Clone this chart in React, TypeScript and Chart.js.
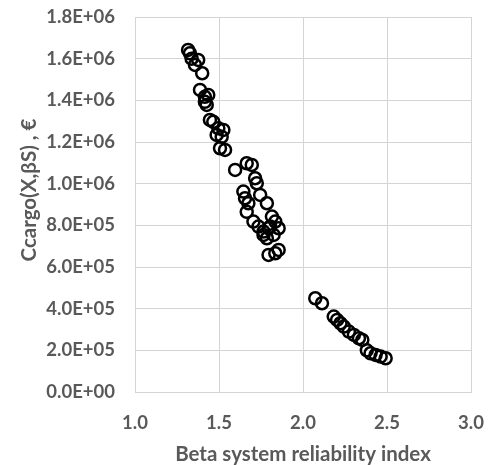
import React, { useEffect, useRef } from "react";
import { Chart, registerables } from "chart.js";

Chart.register(...registerables);

const betaValues: number[] = [
  1.316, 1.327, 1.337, 1.376, 1.357, 1.40, 1.387, 1.416, 1.436, 1.416, 1.427,
  1.446, 1.466, 1.496, 1.526, 1.486, 1.516, 1.506, 1.536,
  1.596, 1.665, 1.695, 1.715, 1.725, 1.645, 1.655, 1.675, 1.745, 1.785, 1.665,
  1.705, 1.735, 1.765, 1.815, 1.835, 1.855, 1.785, 1.825, 1.805, 1.795, 1.835,
  1.855, 1.795, 1.765,
  2.073, 2.113, 2.183, 2.203, 2.223, 2.243, 2.273, 2.303, 2.333, 2.353, 2.38,
  2.402, 2.432, 2.462, 2.492,
];

const costValues: number[] = [
  1642000, 1626000, 1600000, 1594000, 1570000, 1530000, 1450000, 1417000, 1426000,
  1393000, 1378000, 1306000, 1297000, 1266000, 1258000, 1234000, 1225000, 1170000,
  1162000,
  1066000, 1098000, 1090000, 1026000, 1002000, 962000, 930000, 906000, 946000,
  906000, 865000, 818000, 794000, 770000, 842000, 818000, 786000, 738000, 754000,
  794000, 658000, 666000, 682000, 786000, 754000,
  450000, 426000, 362000, 346000, 330000, 314000, 290000, 274000, 258000, 250000,
  200000, 186000, 178000, 170000, 162000,
];

const xTitle = "Beta system reliability index";
const yTitle = "Ccargo(X,βS) , €";
const xTickValues = [1.0, 1.5, 2.0, 2.5, 3.0];
const yTickStep = 200000;

const FONT = "Lato";
const GRAY = "#595959";
const GRID = "#d4d4d4";

function sci(v: number): string {
  const s = v.toExponential(1).toUpperCase();
  const m = s.match(/^(-?[\d.]+)E([+-])(\d+)$/);
  if (!m) return s;
  return `${m[1]}E${m[2]}${m[3].padStart(2, "0")}`;
}

const titlesPlugin = {
  id: "customTitles",
  afterDraw(chart: any) {
    const ctx = chart.ctx as CanvasRenderingContext2D;
    ctx.save();
    ctx.fillStyle = GRAY;
    ctx.font = `bold 20.5px ${FONT}`;
    ctx.textAlign = "center";
    ctx.textBaseline = "alphabetic";
    ctx.fillText(xTitle, 303, 461);
    ctx.translate(36, 190);
    ctx.rotate(-Math.PI / 2);
    ctx.fillText(yTitle, 0, 0);
    ctx.restore();
  },
};

export default function App() {
  const ref = useRef<HTMLCanvasElement>(null);
  useEffect(() => {
    if (!ref.current) return;
    const chart = new Chart(ref.current, {
      type: "scatter",
      data: {
        datasets: [
          {
            data: betaValues.map((x, i) => ({ x, y: costValues[i] })),
            pointStyle: "circle",
            pointRadius: 6,
            pointBorderWidth: 2.5,
            pointBorderColor: "#000000",
            pointBackgroundColor: "rgba(0,0,0,0)",
            showLine: false,
          },
        ],
      },
      options: {
        responsive: false,
        animation: false,
        devicePixelRatio: 1,
        layout: { padding: { top: 17, right: 21, left: 0, bottom: 0 } },
        plugins: {
          legend: { display: false },
          tooltip: { enabled: false },
          title: { display: false },
        },
        scales: {
          x: {
            type: "linear",
            min: 1,
            max: 3,
            afterBuildTicks: (scale: any) => {
              scale.ticks = xTickValues.map((v) => ({ value: v }));
            },
            afterFit: (scale: any) => {
              scale.height = 73;
              scale.paddingLeft = 0;
              scale.paddingRight = 0;
            },
            ticks: {
              padding: 20,
              color: GRAY,
              font: { family: FONT, weight: "bold", size: 18.5 },
              callback: (v: any) => Number(v).toFixed(1),
              maxRotation: 0,
            },
            grid: { color: GRID, lineWidth: 1, drawTicks: false },
            border: { color: GRID, width: 1 },
          },
          y: {
            type: "linear",
            min: 0,
            max: 1800000,
            ticks: {
              stepSize: yTickStep,
              padding: 20,
              color: GRAY,
              font: { family: FONT, weight: "bold", size: 18.5 },
              callback: (v: any) => sci(Number(v)),
            },
            afterFit: (scale: any) => {
              scale.width = 135;
              scale.paddingTop = 0;
              scale.paddingBottom = 0;
            },
            grid: { color: GRID, lineWidth: 1, drawTicks: false },
            border: { color: GRID, width: 1 },
          },
        },
      },
      plugins: [titlesPlugin],
    } as any);
    return () => chart.destroy();
  }, []);
  return (
    <div style={{ position: "absolute", left: 0, top: 0, width: 492, height: 465, background: "#fff" }}>
      <canvas ref={ref} width={492} height={465} />
    </div>
  );
}
